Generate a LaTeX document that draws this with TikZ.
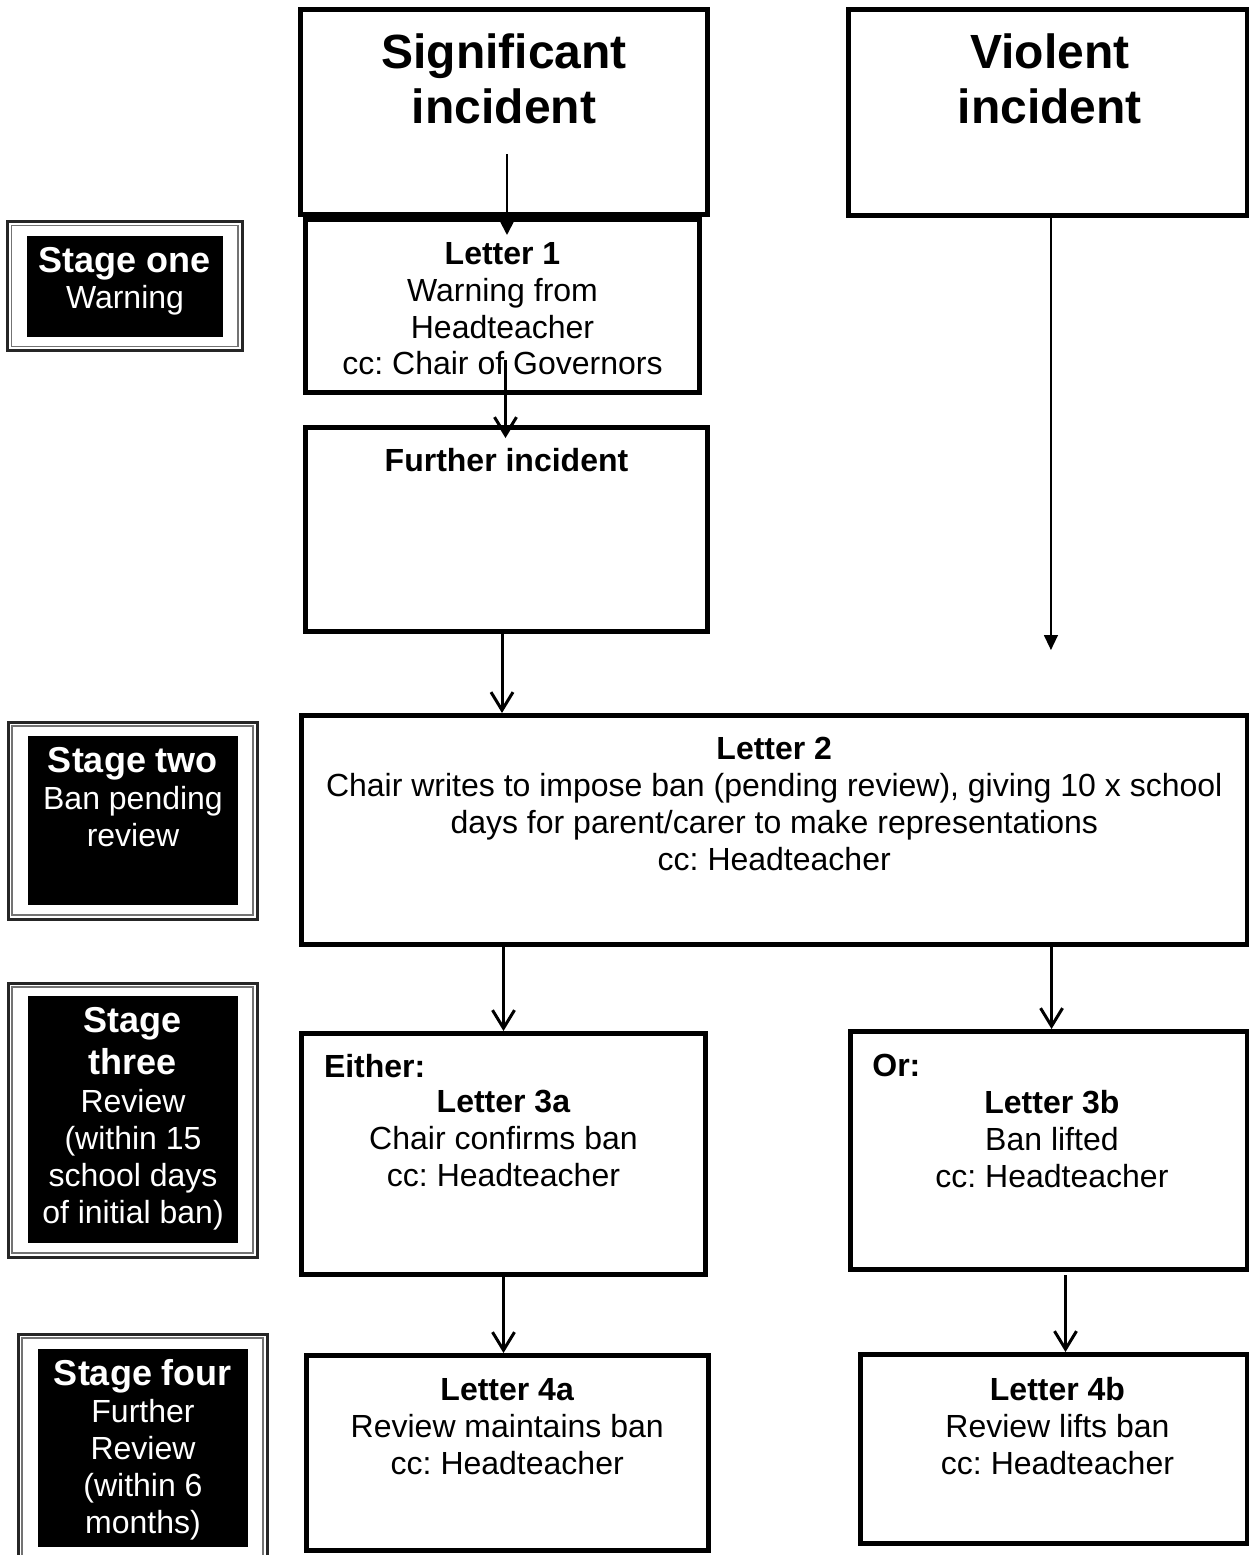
\documentclass[tikz,border=0pt]{standalone}
\usepackage{fontspec}
\setmainfont{Liberation Sans}
\usetikzlibrary{arrows.meta,calc,positioning}
\newcommand{\stagehead}[1]{{\bfseries\fontsize{18}{21}\selectfont #1}}
\frenchspacing

\begin{document}
\begin{tikzpicture}[
    x=0.5pt, y=-0.5pt,
    >={Straight Barb[length=9pt,width=11pt]},
    box/.style={draw,line width=2.5pt,inner sep=0pt},
    txt/.style={align=center,inner sep=0pt,font=\fontsize{16}{18.4}\selectfont},
    big/.style={align=center,inner sep=0pt,font=\fontsize{24}{27.6}\selectfont\bfseries},
    stage/.style={fill=black,inner sep=0pt},
    stagetxt/.style={txt,text=white},
    frameout/.style={line width=1.5pt,draw=black!85},
    framein/.style={line width=0.6pt,draw=black!55},
    flow/.style={line width=1.5pt,->},
    thinflow/.style={line width=0.7pt,-{Triangle[length=7.5pt,width=7pt]}}
]
\useasboundingbox (0,0) rectangle (1249,1555);

% --- Incident boxes ---
\node[box,minimum width=203.5pt,minimum height=102.5pt] (sig) at (504,112) {};
\node[big,below=13pt of sig.north] (sigtxt) {Significant\\incident};

\node[box,minimum width=199.25pt,minimum height=103pt] (vio) at (1047.75,112.5) {};
\node[big,below=13pt of vio.north,xshift=1pt] (viotxt) {Violent\\incident};

% --- Stage one ---
\node[box,minimum width=197pt,minimum height=86.5pt] (let1) at (502.5,306) {};
\node[txt,below=12.5pt of let1.north] (let1txt) {\textbf{Letter 1}\\Warning from\\Headteacher\\cc: Chair of Governors};

\node[box,minimum width=201pt,minimum height=101.75pt] (further) at (506.5,529.25) {};
\node[txt,below=11.5pt of further.north] (furthertxt) {\textbf{Further incident}};

% --- Stage two ---
\node[box,minimum width=472.75pt,minimum height=114.5pt] (let2) at (774.25,830) {};
\node[txt,below=12pt of let2.north] (let2txt) {\textbf{Letter 2}\\Chair writes to impose ban (pending review), giving 10 x school\\days for parent/carer to make representations\\cc: Headteacher};

% --- Stage three ---
\node[box,minimum width=202pt,minimum height=120.5pt] (let3a) at (503.5,1154) {};
\node[txt,font=\fontsize{16}{18.4}\selectfont\bfseries,below right=11.5pt and 12.3pt of let3a.north west] (either) {Either:};
\node[txt,below=29.5pt of let3a.north] (let3atxt) {\textbf{Letter 3a}\\Chair confirms ban\\cc: Headteacher};

\node[box,minimum width=198.25pt,minimum height=119pt] (let3b) at (1048.75,1150.5) {};
\node[txt,font=\fontsize{16}{18.4}\selectfont\bfseries,below right=12.5pt and 12pt of let3b.north west] (or) {Or:};
\node[txt,below=30.5pt of let3b.north,xshift=1.6pt] (let3btxt) {\textbf{Letter 3b}\\Ban lifted\\cc: Headteacher};

% --- Stage four ---
\node[box,minimum width=201.25pt,minimum height=97.5pt] (let4a) at (507.25,1453) {};
\node[txt,below=12.5pt of let4a.north] (let4atxt) {\textbf{Letter 4a}\\Review maintains ban\\cc: Headteacher};

\node[box,minimum width=193.5pt,minimum height=94.5pt] (let4b) at (1053.5,1449) {};
\node[txt,below=12.5pt of let4b.north,xshift=2pt] (let4btxt) {\textbf{Letter 4b}\\Review lifts ban\\cc: Headteacher};

% --- Stage labels ---
\draw[frameout] (7.5,221.5) rectangle (242,350.5);
\draw[framein] (11.5,225.5) rectangle (238,346.5);
\node[stage,minimum width=98pt,minimum height=50.5pt] (s1) at (125,286.5) {};
\node[stagetxt,below=5.5pt of s1.north] (s1txt) {\stagehead{Stage one}\\Warning};

\draw[frameout] (8,722) rectangle (257,919);
\draw[framein] (12,726) rectangle (253,915);
\node[stage,minimum width=105pt,minimum height=84.5pt] (s2) at (133,820.5) {};
\node[stagetxt,below=5.5pt of s2.north] (s2txt) {\stagehead{Stage two}\\[0.5pt]Ban pending\\review};

\draw[frameout] (8,983) rectangle (257,1257);
\draw[framein] (12,987) rectangle (253,1253);
\node[stage,minimum width=105pt,minimum height=123.5pt] (s3) at (133,1119.5) {};
\node[stagetxt,below=5.5pt of s3.north] (s3txt) {\stagehead{Stage}\\[3pt]\stagehead{three}\\[0.5pt]Review\\(within 15\\school days\\of initial ban)};

\draw[frameout] (18,1334) rectangle (267,1575);
\draw[framein] (22,1338) rectangle (263,1575);
\node[stage,minimum width=105pt,minimum height=99pt] (s4) at (143,1448) {};
\node[stagetxt,below=5pt of s4.north] (s4txt) {\stagehead{Stage four}\\[0.5pt]Further\\Review\\(within 6\\months)};

% --- Arrows ---
\coordinate (sigout) at (507,154);
\draw[line width=1.2pt,-{Triangle[length=9pt,width=9pt]},shorten >=-9pt] (sigout) -- (sigout |- let1.north);

\coordinate (let1out) at (505.5,360);
\draw[flow,shorten >=-6.5pt] (let1out) -- (let1out |- further.north);

\coordinate (fout) at ([xshift=-2.25pt]further.south);
\draw[flow] (fout) -- (fout |- let2.north);

\coordinate (vout) at ([xshift=1.6pt]vio.south);
\coordinate (viotip) at ($(vout)+(0,432)$);
\draw[thinflow] (vout) -- (viotip);

\draw[flow] (let3a.north |- let2.south) -- (let3a.north);
\coordinate (b3in) at ([xshift=1.4pt]let3b.north);
\draw[flow] (b3in |- let2.south) -- (b3in);

\draw[flow] (let3a.south) -- (let3a.south |- let4a.north);
\coordinate (b4in) at ([xshift=6pt]let4b.north);
\draw[flow,shorten <=1.5pt] (b4in |- let3b.south) -- (b4in);
\end{tikzpicture}
\end{document}
